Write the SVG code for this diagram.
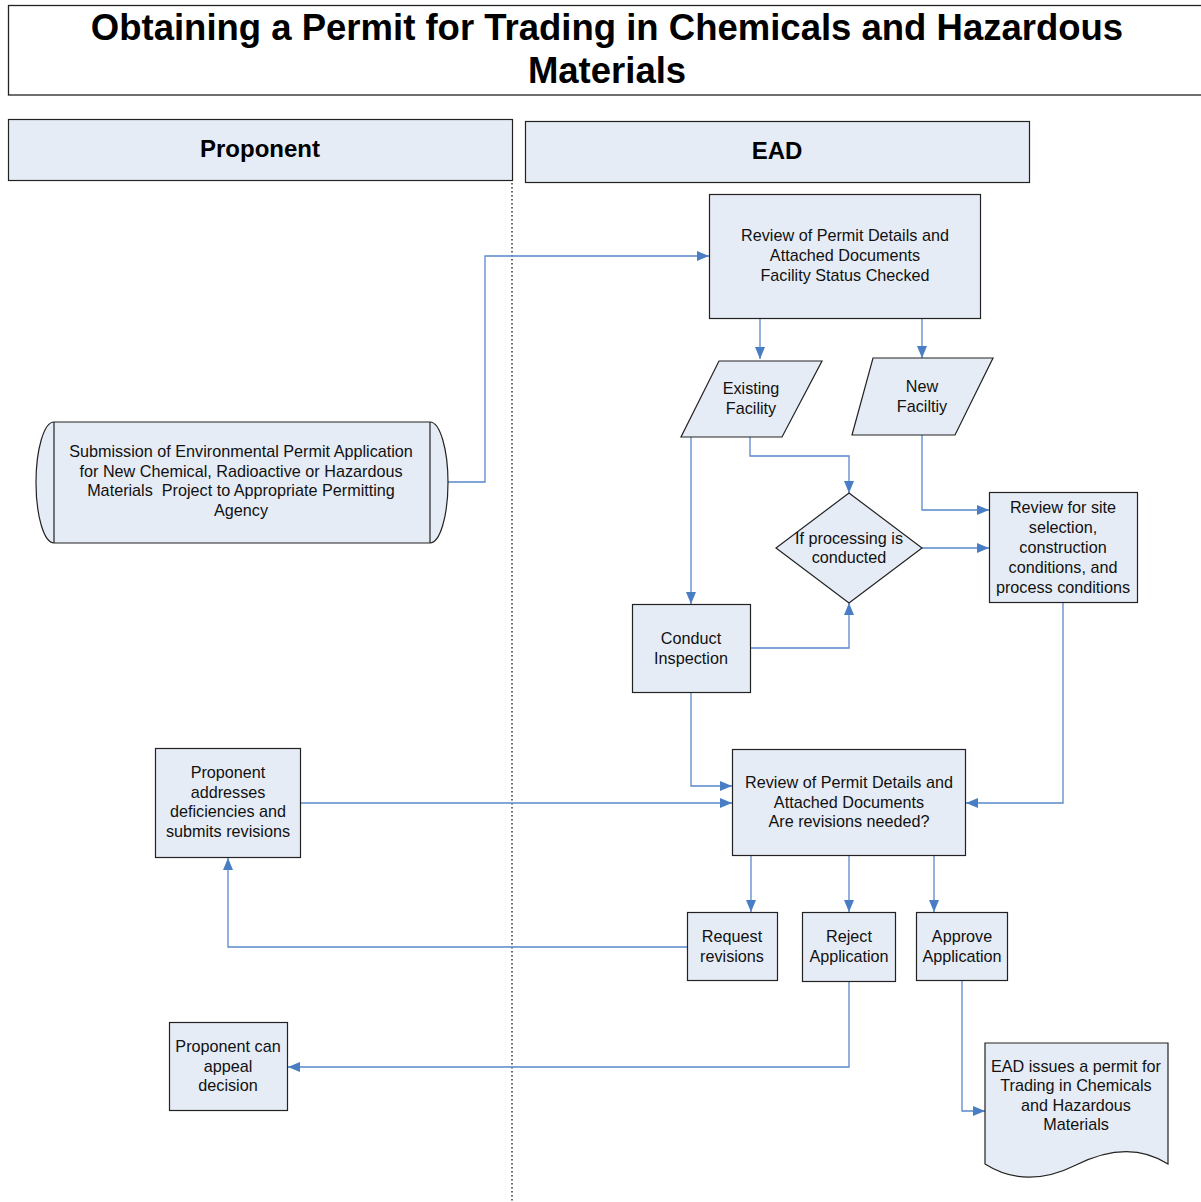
<svg xmlns="http://www.w3.org/2000/svg" width="1201" height="1202" viewBox="0 0 1201 1202">
<defs>
<marker id="arr" markerUnits="userSpaceOnUse" markerWidth="12" markerHeight="10" refX="12" refY="5" orient="auto">
<path d="M0,0 L12,5 L0,10 z" fill="#4A7EC4"/>
</marker>
<style>
.n{fill:#E6ECF6;stroke:#222;stroke-width:1.2}
.t{font-family:"Liberation Sans",Arial,sans-serif;font-size:16.2px;fill:#111;text-anchor:middle;white-space:pre}
.h{font-family:"Liberation Sans",Arial,sans-serif;font-weight:bold;fill:#000;text-anchor:middle}
.c{fill:none;stroke:#5A88CC;stroke-width:1.3;marker-end:url(#arr)}
</style>
</defs>
<rect width="1201" height="1202" fill="#fff"/>
<g id="title">
<rect x="8.5" y="5.5" width="1200" height="89.5" fill="#fff" stroke="#222" stroke-width="1.3"/>
<text class="h" x="607" y="40" font-size="36.5">Obtaining a Permit for Trading in Chemicals and Hazardous</text>
<text class="h" x="607" y="83" font-size="36.5">Materials</text>
</g>
<g id="lane-proponent">
<rect class="n" x="8.5" y="119.5" width="504" height="61"/>
<text class="h" x="260" y="157" font-size="24">Proponent</text>
</g>
<g id="lane-ead">
<rect class="n" x="525.5" y="121.5" width="504" height="61"/>
<text class="h" x="777" y="159" font-size="24">EAD</text>
</g>
<line x1="512" y1="183" x2="512" y2="1202" stroke="#000" stroke-width="1.2" stroke-dasharray="1.5,2.5"/>
<g id="connectors">
<polyline class="c" points="448,482 485,482 485,256 709,256"/>
<polyline class="c" points="760,318 760,359"/>
<polyline class="c" points="922,318 922,358"/>
<polyline class="c" points="691,437 691,604"/>
<polyline class="c" points="750,437 750,456 849,456 849,493"/>
<polyline class="c" points="922,435 922,510 989,510"/>
<polyline class="c" points="922,548 989,548"/>
<polyline class="c" points="751,648 849,648 849,603"/>
<polyline class="c" points="691,693 691,786 732,786"/>
<polyline class="c" points="301,803 732,803"/>
<polyline class="c" points="1063,603 1063,803 966,803"/>
<polyline class="c" points="751,856 751,912"/>
<polyline class="c" points="849,856 849,912"/>
<polyline class="c" points="934,856 934,912"/>
<polyline class="c" points="687,947 228,947 228,858"/>
<polyline class="c" points="849,982 849,1067 288,1067"/>
<polyline class="c" points="962,981 962,1111 985,1111"/>
</g>
<g id="submission">
<path class="n" d="M54,422 H430 A18,60.5 0 0 1 430,543 H54 A18,60.5 0 0 1 54,422 Z"/>
<line x1="54" y1="422" x2="54" y2="543" stroke="#222" stroke-width="1.2"/>
<line x1="430" y1="422" x2="430" y2="543" stroke="#222" stroke-width="1.2"/>
<text class="t" x="241" y="457">Submission of Environmental Permit Application</text>
<text class="t" x="241" y="477">for New Chemical, Radioactive or Hazardous</text>
<text class="t" x="241" y="496" xml:space="preserve">Materials  Project to Appropriate Permitting</text>
<text class="t" x="241" y="516">Agency</text>
</g>
<g id="review1">
<rect class="n" x="709.5" y="194.5" width="271" height="124"/>
<text class="t" x="845" y="241">Review of Permit Details and</text>
<text class="t" x="845" y="261">Attached Documents</text>
<text class="t" x="845" y="281">Facility Status Checked</text>
</g>
<g id="existing">
<polygon class="n" points="719,361 822,361 782,437 681,437"/>
<text class="t" x="751" y="394">Existing</text>
<text class="t" x="751" y="414">Facility</text>
</g>
<g id="new">
<polygon class="n" points="873,358 993,358 955,435 852,435"/>
<text class="t" x="922" y="392">New</text>
<text class="t" x="922" y="412">Faciltiy</text>
</g>
<g id="decision">
<polygon class="n" points="849,493 922,548 849,603 776,548"/>
<text class="t" x="849" y="544">If processing is</text>
<text class="t" x="849" y="563">conducted</text>
</g>
<g id="site-review">
<rect class="n" x="989.5" y="492.5" width="148" height="110"/>
<text class="t" x="1063" y="513">Review for site</text>
<text class="t" x="1063" y="533">selection,</text>
<text class="t" x="1063" y="553">construction</text>
<text class="t" x="1063" y="573">conditions, and</text>
<text class="t" x="1063" y="593">process conditions</text>
</g>
<g id="inspection">
<rect class="n" x="632.5" y="604.5" width="118" height="88"/>
<text class="t" x="691" y="644">Conduct</text>
<text class="t" x="691" y="664">Inspection</text>
</g>
<g id="review2">
<rect class="n" x="732.5" y="749.5" width="233" height="106"/>
<text class="t" x="849" y="788">Review of Permit Details and</text>
<text class="t" x="849" y="808">Attached Documents</text>
<text class="t" x="849" y="827">Are revisions needed?</text>
</g>
<g id="addresses">
<rect class="n" x="155.5" y="748.5" width="145" height="109"/>
<text class="t" x="228" y="778">Proponent</text>
<text class="t" x="228" y="798">addresses</text>
<text class="t" x="228" y="817">deficiencies and</text>
<text class="t" x="228" y="837">submits revisions</text>
</g>
<g id="request">
<rect class="n" x="687.5" y="912.5" width="90" height="68"/>
<text class="t" x="732" y="942">Request</text>
<text class="t" x="732" y="962">revisions</text>
</g>
<g id="reject">
<rect class="n" x="802.5" y="912.5" width="93" height="69"/>
<text class="t" x="849" y="942">Reject</text>
<text class="t" x="849" y="962">Application</text>
</g>
<g id="approve">
<rect class="n" x="916.5" y="912.5" width="91" height="68"/>
<text class="t" x="962" y="942">Approve</text>
<text class="t" x="962" y="962">Application</text>
</g>
<g id="appeal">
<rect class="n" x="169.5" y="1022.5" width="118" height="88"/>
<text class="t" x="228" y="1052">Proponent can</text>
<text class="t" x="228" y="1072">appeal</text>
<text class="t" x="228" y="1091">decision</text>
</g>
<g id="issue">
<path class="n" d="M985,1043 H1168 V1164 C1140,1146 1110,1148 1076,1165 C1042,1182 1012,1181 985,1164 Z"/>
<text class="t" x="1076" y="1072">EAD issues a permit for</text>
<text class="t" x="1076" y="1091">Trading in Chemicals</text>
<text class="t" x="1076" y="1111">and Hazardous</text>
<text class="t" x="1076" y="1130">Materials</text>
</g>
</svg>
